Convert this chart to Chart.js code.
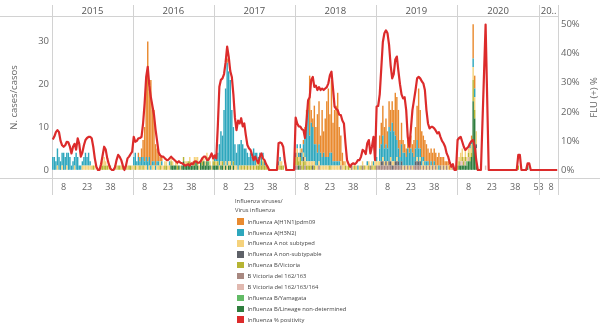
<!DOCTYPE html>
<html>
<head>
<meta charset="utf-8">
<script src="https://cdn.jsdelivr.net/npm/chart.js@4.4.0/dist/chart.umd.min.js"></script>
<style>
  html, body { margin: 0; padding: 0; background: #fff; }
  #wrap { position: relative; width: 600px; height: 323px; overflow: hidden; }
  #chart { position: absolute; left: 0; top: 0; }
  #legend { position: absolute; left: 235px; top: 197px; font-family: "Open Sans", sans-serif; font-size: 5.8px; color: #444; white-space: nowrap; }
  #legend .title { line-height: 8.8px; }
  #legend .items { margin-top: 1.6px; }
  #legend .item { height: 10.9px; display: flex; align-items: center; }
  #legend .box { width: 6.5px; height: 6.5px; margin: 0 4px 0 2px; }
</style>
</head>
<body>
<div id="wrap">
  <canvas id="chart" width="600" height="200"></canvas>
  <div id="legend"></div>
</div>
<script>
// panes (years) and weeks per pane
const yearLabels = ['2015', '2016', '2017', '2018', '2019', '2020', '20..'];
const weeksPerYear = [52, 52, 52, 52, 52, 53, 12];
const tickWeeks = [8, 23, 38, 53];
const caseTicks = [0, 10, 20, 30];
const pctTicks = [0, 10, 20, 30, 40, 50];

// weekly positive cases by virus, one row per year (2015 .. 2021)
const h1n1 = [
  0,0,0,0,0,0,0,0,0,0, 0,0,0,0,0,0,0,0,0,0, 0,0,0,0,0,0,0,0,0,0, 0,0,0,0,0,0,0,0,0,0, 0,0,0,0,0,0,0,0,0,0, 0,0,
  0,0,0,1,1,2,4,8,18,28, 16,20,12,12,5,3,2,1,1,0, 0,0,0,0,0,0,0,0,0,0, 0,0,0,0,0,0,0,0,0,0, 0,0,0,0,0,0,0,0,0,0, 0,0,
  0,0,0,0,0,0,0,0,1,0, 0,0,0,0,0,0,0,0,0,0, 0,0,0,0,0,0,0,0,0,0, 0,0,0,0,0,0,0,0,0,0, 0,0,0,0,0,0,0,0,0,0, 0,0,
  0,0,0,0,1,1,2,2,2,14, 3,2,9,4,9,10,4,11,5,9, 13,16,9,17,9,12,13,16,8,6, 3,1,0,0,0,0,0,0,0,0, 0,0,0,0,0,0,0,0,0,0, 0,0,
  0,0,3,5,7,5,6,4,6,5, 5,5,10,10,9,4,5,3,2,2, 2,2,3,2,4,5,8,14,9,6, 5,5,4,3,3,3,3,3,3,2, 3,2,2,2,1,1,1,1,0,0, 0,0,
  0,0,0,0,0,0,0,0,0,1, 8,3,0,0,0,0,0,0,0,0, 0,0,0,0,0,0,0,0,0,0, 0,0,0,0,0,0,0,0,0,0, 0,0,0,0,0,0,0,0,0,0, 0,0,0,
  0,0,0,0,0,0,0,0,0,0, 0,0
];
const h3n2 = [
  3,3,2,4,3,2,3,4,3,3, 4,3,1,2,2,4,3,1,1,1, 2,3,2,3,1,0,0,0,0,0, 0,0,0,0,0,0,0,0,0,0, 0,0,0,0,0,0,0,0,0,0, 0,0,
  2,3,1,2,1,2,2,1,2,2, 2,1,1,1,1,1,1,0,1,0, 0,0,0,1,0,0,0,0,0,0, 0,0,0,0,0,0,0,0,0,0, 0,0,0,0,0,0,0,0,0,0, 0,0,
  1,1,2,5,7,6,13,17,24,21, 19,13,8,5,3,6,5,6,5,4, 4,3,2,3,2,4,3,2,1,1, 2,1,1,0,0,0,0,0,0,0, 0,1,1,0,0,0,0,0,0,0, 0,0,
  0,1,1,1,2,2,5,10,12,6, 9,8,4,5,3,4,3,2,3,2, 2,2,3,3,1,1,1,1,1,0, 0,0,0,0,0,0,0,0,0,0, 1,0,0,0,0,0,1,0,0,0, 1,0,
  1,0,3,4,5,3,4,3,8,6, 9,7,6,4,3,2,4,3,3,2, 4,3,4,3,2,3,4,3,2,2, 1,1,1,1,0,1,0,1,0,0, 1,0,0,0,0,0,0,0,0,0, 0,0,
  0,0,0,0,0,0,0,0,1,1, 2,2,0,0,0,0,0,0,0,0, 0,0,0,0,0,0,0,0,0,0, 0,0,0,0,0,0,0,0,0,0, 0,0,0,0,0,0,0,0,0,0, 0,0,0,
  0,0,0,0,0,0,0,0,0,0, 0,0
];
const aNotSubtyped = [
  0,0,0,1,0,0,1,0,0,1, 0,0,0,0,1,0,0,0,0,1, 1,1,1,1,1,1,0,1,0,0, 0,0,1,2,1,0,1,0,0,0, 0,1,0,0,1,0,0,0,1,0, 0,1,
  1,0,1,1,0,1,0,1,1,0, 1,0,1,1,0,1,1,1,1,1, 1,1,1,1,1,1,0,1,1,0, 1,0,0,1,1,0,1,0,1,1, 1,1,1,0,1,1,1,1,1,1, 1,1,
  0,1,0,1,1,0,1,1,1,1, 1,1,0,1,1,0,1,0,1,0, 1,0,1,0,1,0,1,1,1,1, 0,1,0,0,1,0,0,0,0,0, 0,1,1,1,0,0,0,0,0,0, 0,0,
  1,2,1,1,1,1,1,1,1,1, 1,1,1,1,1,1,1,1,1,1, 1,1,0,1,1,1,1,1,1,1, 1,1,1,1,0,1,0,1,0,1, 0,1,0,1,0,1,1,1,0,1, 1,1,
  1,1,1,0,1,1,0,1,0,1, 1,1,0,1,0,0,0,1,0,1, 0,1,0,1,0,0,1,0,1,1, 1,1,0,1,0,1,0,1,0,1, 0,0,1,0,1,0,1,0,1,0, 0,0,
  1,1,2,2,1,2,1,1,2,2, 3,3,3,0,0,0,0,0,0,0, 0,0,0,0,0,0,0,0,0,0, 0,0,0,0,0,0,0,0,0,0, 0,0,0,0,0,0,0,0,0,0, 0,0,0,
  0,0,0,0,0,0,0,0,0,0, 0,0
];
const aNonSubtypable = [
  0,0,0,0,0,0,0,0,0,0, 0,0,0,0,0,0,0,0,0,0, 0,0,0,0,0,0,0,0,0,0, 0,0,0,0,0,0,0,0,0,0, 0,0,0,0,0,0,0,0,0,0, 0,0,
  0,0,0,0,0,0,0,0,0,0, 0,0,0,0,0,0,0,0,0,0, 0,0,0,0,0,0,0,0,0,0, 0,0,0,0,0,0,0,0,0,0, 0,0,0,0,0,0,0,0,0,0, 0,0,
  0,0,0,0,0,0,0,0,0,0, 0,0,0,0,0,0,0,0,0,0, 0,0,0,0,0,0,0,0,0,0, 0,0,0,0,0,0,0,0,0,0, 0,0,0,0,0,0,0,0,0,0, 0,0,
  1,0,0,1,0,1,0,0,0,0, 0,1,0,0,0,0,0,0,0,0, 0,0,0,0,0,0,0,0,0,0, 0,0,0,0,0,0,0,0,0,0, 0,0,0,0,0,0,0,0,0,0, 0,0,
  0,0,0,1,1,0,1,0,1,1, 1,0,1,1,1,0,1,0,0,0, 0,0,0,0,0,1,1,1,1,0, 0,0,0,0,0,0,0,0,0,0, 0,0,0,0,0,0,0,0,0,0, 0,0,
  0,0,0,0,0,0,0,0,0,0, 0,0,1,0,0,0,0,0,0,0, 0,0,0,0,0,0,0,0,0,0, 0,0,0,0,0,0,0,0,0,0, 0,0,0,0,0,0,0,0,0,0, 0,0,0,
  0,0,0,0,0,0,0,0,0,0, 0,0
];
const bVictoria = [
  0,0,0,0,0,0,0,0,0,0, 0,0,0,0,0,0,0,0,0,0, 0,0,0,0,0,0,1,0,0,0, 0,1,1,1,1,1,0,1,0,0, 1,0,1,1,0,1,0,1,0,1, 1,0,
  0,1,0,0,1,0,1,0,0,0, 0,0,0,0,0,0,0,1,0,0, 1,1,0,0,1,0,0,0,1,0, 0,0,1,0,0,1,1,0,0,1, 0,1,0,0,1,0,0,1,0,0, 0,1,
  1,0,1,0,0,1,0,0,0,0, 0,0,1,0,0,0,0,1,0,1, 0,1,0,1,0,1,0,1,1,2, 1,2,1,1,0,0,0,0,0,0, 0,0,1,1,1,0,0,0,0,0, 0,0,
  2,2,1,2,1,2,1,1,1,1, 1,0,1,0,0,0,0,0,0,0, 0,0,1,0,0,0,0,0,0,0, 0,0,1,0,1,0,0,0,1,0, 0,0,1,0,1,0,0,1,0,1, 0,1,
  0,0,0,0,0,0,0,0,0,0, 0,0,0,0,0,0,0,0,0,0, 0,0,0,0,0,0,0,0,0,0, 0,0,0,0,0,0,0,0,0,0, 0,0,0,0,0,0,0,0,0,0, 0,0,
  1,1,0,1,1,1,0,1,1,1, 5,2,0,0,0,0,0,0,0,0, 0,0,0,0,0,0,0,0,0,0, 0,0,0,0,0,0,0,0,0,1, 0,0,0,0,0,0,0,0,0,0, 0,0,0,
  0,0,0,0,0,0,0,0,0,0, 0,0
];
const bVicDel2 = [
  0,0,0,0,0,0,0,0,0,0, 0,0,0,0,0,0,0,0,0,0, 0,0,0,0,0,0,0,0,0,0, 0,0,0,0,0,0,0,0,0,0, 0,0,0,0,0,0,0,0,0,0, 0,0,
  0,0,0,0,0,0,0,0,0,0, 0,0,0,0,0,0,0,0,0,0, 0,0,0,0,0,0,0,0,0,0, 0,0,0,0,0,0,0,0,0,0, 0,0,0,0,0,0,0,0,0,0, 0,0,
  0,0,0,0,0,0,0,0,0,0, 0,0,0,0,0,0,0,0,0,0, 0,0,0,0,0,0,0,0,0,0, 0,0,0,0,0,0,0,0,0,0, 0,0,0,0,0,0,0,0,0,0, 0,0,
  1,1,0,1,0,0,1,0,0,0, 0,0,0,0,0,1,0,0,0,0, 0,0,0,0,0,0,0,0,0,1, 0,0,0,0,0,0,1,0,0,0, 0,0,0,1,0,0,0,0,1,0, 0,0,
  1,1,1,1,1,1,1,1,1,1, 0,1,1,1,1,1,1,0,1,0, 1,0,1,0,1,1,1,1,1,0, 1,0,1,0,1,0,1,0,1,0, 0,1,0,1,0,1,0,0,0,1, 0,0,
  0,0,0,0,0,0,0,0,0,0, 0,0,0,0,0,0,0,0,0,0, 0,0,0,0,0,0,0,0,0,0, 0,0,0,0,0,0,0,0,0,0, 0,0,0,0,0,0,0,0,0,0, 0,0,0,
  0,0,0,0,0,0,0,0,0,0, 0,0
];
const bVicDel3 = [
  0,0,0,0,0,0,0,0,0,0, 0,0,0,0,0,0,0,0,0,0, 0,0,0,0,0,0,0,0,0,0, 0,0,0,0,0,0,0,0,0,0, 0,0,0,0,0,0,0,0,0,0, 0,0,
  0,0,0,0,0,0,0,0,0,0, 0,0,0,0,0,0,0,0,0,0, 0,0,0,0,0,0,0,0,0,0, 0,0,0,0,0,0,0,0,0,0, 0,0,0,0,0,0,0,0,0,0, 0,0,
  0,0,0,0,0,0,0,0,0,0, 0,0,0,0,0,0,0,0,0,0, 0,0,0,0,0,0,0,0,0,0, 0,0,0,0,0,0,0,0,0,0, 0,0,0,0,0,0,0,0,0,0, 0,0,
  0,0,0,0,0,0,0,0,0,0, 0,0,0,0,0,0,0,0,0,0, 0,0,0,0,0,0,0,0,0,0, 0,0,0,0,0,0,0,0,0,0, 0,0,0,0,0,0,0,0,0,0, 0,0,
  0,0,0,0,0,0,0,0,0,0, 0,0,0,0,0,0,0,0,0,0, 0,0,0,0,0,0,0,0,0,0, 0,0,0,0,0,0,0,0,0,0, 0,0,0,0,0,0,0,0,0,0, 0,0,
  0,0,1,1,0,1,0,1,0,0, 0,0,2,0,0,0,0,0,1,0, 0,0,0,0,0,0,0,0,0,0, 0,0,0,0,0,0,0,0,0,0, 0,0,0,0,0,0,0,0,0,0, 0,0,0,
  0,0,0,0,0,0,0,0,0,0, 0,0
];
const bYamagata = [
  0,0,0,0,0,0,0,0,0,0, 0,0,0,0,0,0,0,0,0,0, 0,0,0,0,0,0,0,0,0,0, 0,0,0,0,0,0,0,0,0,0, 0,0,0,0,0,0,0,0,0,0, 0,0,
  0,0,0,0,0,0,0,0,0,0, 0,0,0,0,0,0,0,0,0,0, 0,0,0,0,0,0,0,0,0,0, 0,0,0,0,0,0,0,0,0,0, 0,0,0,0,0,0,0,0,1,0, 0,0,
  0,0,0,0,0,0,0,0,0,0, 0,0,0,0,0,0,0,0,0,0, 0,0,0,0,0,0,0,0,0,0, 0,0,0,0,0,0,0,0,0,0, 0,0,0,0,0,0,0,0,0,0, 0,0,
  0,0,0,0,0,0,0,0,0,0, 0,0,0,0,0,0,0,0,0,0, 0,0,0,0,0,0,0,0,0,0, 0,0,0,0,0,0,0,0,0,0, 0,0,0,0,0,0,0,0,0,0, 0,0,
  0,0,0,0,0,0,0,0,0,0, 0,0,0,0,0,0,0,0,0,0, 0,0,0,0,0,0,0,0,0,0, 0,0,0,0,0,0,0,0,0,0, 0,0,0,0,0,0,0,0,0,0, 0,0,
  0,0,0,0,0,0,1,0,0,0, 0,0,0,0,0,0,0,0,0,0, 0,0,0,0,0,0,0,0,0,0, 0,0,0,0,0,0,0,0,0,0, 0,0,0,0,0,0,0,0,0,0, 0,0,0,
  0,0,0,0,0,0,0,0,0,0, 0,0
];
const bLineageNd = [
  0,0,0,0,0,0,0,0,0,0, 0,0,0,0,0,0,0,0,0,0, 0,0,0,0,0,0,0,0,0,0, 0,0,0,0,0,0,0,0,0,0, 0,0,0,0,0,0,0,0,0,0, 0,0,
  0,0,0,0,0,0,0,0,0,0, 0,0,0,0,0,0,0,0,0,0, 0,0,0,0,1,1,1,1,0,1, 0,1,2,1,1,1,1,1,1,1, 2,1,0,2,1,2,1,2,1,1, 0,1,
  1,1,1,0,1,1,0,1,0,1, 1,0,1,0,0,0,0,0,0,0, 0,0,0,0,0,0,0,0,0,0, 0,0,0,0,0,0,0,0,0,0, 0,0,0,0,0,0,0,0,0,0, 0,0,
  0,0,1,0,0,0,0,0,0,0, 0,0,0,0,0,0,0,0,0,0, 0,0,0,0,0,0,0,0,0,0, 0,0,0,0,0,0,0,0,0,0, 0,0,0,0,0,0,0,0,0,0, 0,0,
  0,0,0,0,0,0,0,0,0,0, 0,0,0,0,0,0,0,0,0,0, 0,0,0,0,0,0,0,0,0,0, 0,0,0,0,0,0,0,0,0,0, 0,0,0,0,0,0,0,0,0,0, 0,0,
  0,1,1,1,1,1,1,2,2,3, 16,12,3,0,0,0,0,0,0,0, 0,0,0,0,0,0,0,0,0,0, 0,0,0,0,0,0,0,0,0,0, 0,0,0,0,0,1,0,0,0,0, 0,0,0,
  0,0,0,0,0,0,0,0,0,0, 0,0
];
// % positivity (right axis); null = no samples that week
const positivity = [
  10.5,11.5,13,13.7,13,10,8.5,8,8.5,9.7, 9.5,8,5.7,8,9,7,10.9,9,4.6,6, 8.5,10.3,11,11.4,11.4,10.9,8,4,1.1,0, 0,2,5,8,7,4,2,0.5,0,0, 1,3.5,5.2,4.5,3.4,1.5,0,1.5,4,4.6, 5.5,6.3,
  11.4,9.7,10,10.9,11,11.4,16,23,32,35.5, 29,25,22,19,14,10,6,5,4.6,4.6, 4,3.5,3.4,4,4.6,4,3.5,3,2.5,3, 2.5,2.3,2,1.5,1.7,2,1.5,2.3,2,2.9, 3,2.5,2.5,3,4,4.6,4.6,3.5,3.5,4.5, 5.7,4,
  5,4,15,28.6,31,31.5,33,37,42.4,39, 34,32,26,18,13.7,17,16,17.8,15,16, 12,8.6,7.5,6.9,5.2,3.4,4.6,3.4,2.3,4.5, 5.7,4,3.4,2,1.1,0,0,0,0,0, 0,9.2,9.5,9.2,8,3.4,0,0,0,0, 0,0,
  18,16,15,14.9,14,13.7,11,17,24,25, 31,32,28.6,29,27.5,28.5,27.5,28,27.5,28, 28.5,29.8,32.6,33.8,28,21.8,21,20.6,19,18.9, 17,16,9.2,3.4,2,1.1,2,2.3,2,2.5, 3.4,3.4,4.6,6.9,6.5,5.5,9.2,10.3,5.7,8, 11.4,3.4,
  21.8,22,26,35,44,47,48,47,43,36, 31.5,33,38,39,34,29.5,26,24.6,25,20.6, 11.4,8,14,20.6,24,27.5,31.5,32,31.5,30.5, 29.8,27.5,20.6,16,14.3,14.8,14.8,14.3,13.5,12.6, 13,11.4,10,9.2,8,5.7,4.5,2.5,1.1,2, 0,0,
  10.3,11,11.4,9.7,8,6.9,7.5,8,9.2,10, 10.3,8,3.4,0,0,0,null,null,50,null, 0,0,0,0,0,0,0,0,0,0, 0,0,0,0,0,0,0,0,0,5.2, 5.2,0,0,0,0,2.3,2.3,0,0,0, 0,0,0,
  0,0,0,0,0,0,0,0,0,0, 0,0
];

const FONT = '"Open Sans", sans-serif';
const TEXT = '#666';

// legend order; stacked bottom-up in reverse
const barSeries = [
  { label: 'Influenza A(H1N1)pdm09', color: '#e98a2f', data: h1n1 },
  { label: 'Influenza A(H3N2)', color: '#2ea7bd', data: h3n2 },
  { label: 'Influenza A not subtyped', color: '#f5d27c', data: aNotSubtyped },
  { label: 'Influenza A non-subtypable', color: '#5e6168', data: aNonSubtypable },
  { label: 'Influenza B/Victoria', color: '#b6b433', data: bVictoria },
  { label: 'B Victoria del 162/163', color: '#a88880', data: bVicDel2 },
  { label: 'B Victoria del 162/163/164', color: '#e1b9b0', data: bVicDel3 },
  { label: 'Influenza B/Yamagata', color: '#62bb66', data: bYamagata },
  { label: 'Influenza B/Lineage non-determined', color: '#2f7d3e', data: bLineageNd }
];
const lineSeries = { label: 'Influenza % positivity', color: '#dc2b2b', data: positivity };

// week labels per pane
const weekLabels = [];
const yearStart = [];
weeksPerYear.forEach(n => {
  yearStart.push(weekLabels.length);
  for (let w = 1; w <= n; w++) weekLabels.push(w);
});
yearStart.push(weekLabels.length);

barSeries.concat([lineSeries]).forEach(s => {
  if (s.data.length !== weekLabels.length) throw new Error(s.label + ': ' + s.data.length + ' values');
});

const datasets = barSeries.slice().reverse().map(s => ({
  type: 'bar',
  label: s.label,
  data: s.data,
  backgroundColor: s.color,
  borderWidth: 0,
  barPercentage: 0.92,
  categoryPercentage: 1,
  yAxisID: 'y',
  order: 1
}));
datasets.push({
  type: 'line',
  label: lineSeries.label,
  data: lineSeries.data,
  borderColor: lineSeries.color,
  borderWidth: 2.2,
  borderJoinStyle: 'round',
  pointRadius: 0,
  tension: 0,
  spanGaps: true,
  yAxisID: 'y1',
  order: 0
});

// year panes, header and right axis title
const panes = {
  id: 'panes',
  beforeDatasetsDraw(chart) {
    const { ctx, chartArea: a } = chart;
    const step = (a.right - a.left) / weekLabels.length;
    ctx.save();
    ctx.strokeStyle = '#d2d2d2';
    ctx.lineWidth = 1;
    ctx.beginPath();
    ctx.moveTo(0, 16.5); ctx.lineTo(a.right, 16.5);
    ctx.moveTo(0, a.bottom + 0.5); ctx.lineTo(600, a.bottom + 0.5);
    yearStart.forEach(i => {
      const x = Math.round(a.left + i * step) + 0.5;
      ctx.moveTo(x, 5); ctx.lineTo(x, 195);
    });
    ctx.stroke();
    ctx.restore();
  },
  afterDraw(chart) {
    const { ctx, chartArea: a } = chart;
    const step = (a.right - a.left) / weekLabels.length;
    ctx.save();
    ctx.fillStyle = '#555';
    ctx.font = '9.5px ' + FONT;
    ctx.textAlign = 'center';
    ctx.textBaseline = 'middle';
    yearLabels.forEach((y, k) => {
      const x0 = a.left + yearStart[k] * step;
      const x1 = a.left + yearStart[k + 1] * step;
      ctx.fillText(y, (x0 + x1) / 2, 11);
    });
    ctx.fillStyle = TEXT;
    ctx.translate(594, (a.top + a.bottom) / 2);
    ctx.rotate(-Math.PI / 2);
    ctx.fillText('FLU (+) %', 0, 0);
    ctx.restore();
  }
};

new Chart(document.getElementById('chart'), {
  type: 'bar',
  data: { labels: weekLabels, datasets: datasets },
  plugins: [panes],
  options: {
    responsive: false,
    animation: false,
    devicePixelRatio: 1,
    layout: { padding: { top: 17, left: 0, right: 0, bottom: 0 } },
    plugins: { legend: { display: false }, tooltip: { enabled: false } },
    scales: {
      x: {
        stacked: true,
        grid: { display: false, drawTicks: false },
        border: { display: false },
        ticks: {
          autoSkip: false, maxRotation: 0, minRotation: 0, padding: 4,
          color: TEXT, font: { family: FONT, size: 9 },
          callback: (v, i) => tickWeeks.includes(weekLabels[i]) ? String(weekLabels[i]) : ''
        },
        afterFit: s => { s.height = 22; }
      },
      y: {
        position: 'left',
        stacked: true,
        min: -1.9,
        max: 35.7,
        grid: { display: false, drawTicks: false },
        border: { display: false },
        afterBuildTicks: s => { s.ticks = caseTicks.map(v => ({ value: v })); },
        ticks: { padding: 3, color: TEXT, font: { family: FONT, size: 9.5 } },
        title: {
          display: true, text: 'N. cases/casos', color: TEXT,
          font: { family: FONT, size: 9.5 }, padding: { top: 9, bottom: 0 }
        },
        afterFit: s => { s.width = 52; }
      },
      y1: {
        position: 'right',
        min: -2.75,
        max: 52.6,
        grid: { display: false, drawTicks: false },
        border: { display: false },
        afterBuildTicks: s => { s.ticks = pctTicks.map(v => ({ value: v })); },
        ticks: { padding: 3, color: TEXT, font: { family: FONT, size: 9.5 }, callback: v => v + '%' },
        afterFit: s => { s.width = 42; }
      }
    }
  }
});

// legend below the chart
const legend = document.getElementById('legend');
legend.innerHTML = '<div class="title">Influenza viruses/<br>Virus influenza</div>';
const items = document.createElement('div');
items.className = 'items';
barSeries.concat([lineSeries]).forEach(s => {
  const row = document.createElement('div');
  row.className = 'item';
  const box = document.createElement('span');
  box.className = 'box';
  box.style.background = s.color;
  row.appendChild(box);
  row.appendChild(document.createTextNode(s.label));
  items.appendChild(row);
});
legend.appendChild(items);
</script>
</body>
</html>
